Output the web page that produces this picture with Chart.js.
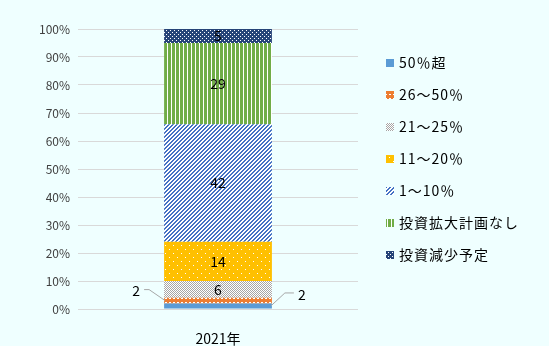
<!DOCTYPE html>
<html>
<head>
<meta charset="utf-8">
<script src="https://cdn.jsdelivr.net/npm/chart.js@4"></script>
<style>
  html, body { margin: 0; padding: 0; background: #EFFFFF; }
  #wrap { width: 549px; height: 346px; }
</style>
</head>
<body>
<div id="wrap"><canvas id="chart" width="549" height="346"></canvas></div>
<script>
// Data
const categories = ['2021年'];
const seriesNames = ['50％超', '26～50％', '21～25％', '11～20％', '1～10％', '投資拡大計画なし', '投資減少予定'];
const seriesValues = [[2], [2], [6], [14], [42], [29], [5]];
const yTicks = [0, 10, 20, 30, 40, 50, 60, 70, 80, 90, 100];

const FONT = '"Noto Sans CJK JP", "Noto Sans", sans-serif';

// small tile patterns like Excel fills
function makePattern(w, h, draw) {
    const c = document.createElement('canvas');
    c.width = w; c.height = h;
    const g = c.getContext('2d');
    draw(g);
    return document.getElementById('chart').getContext('2d').createPattern(c, 'repeat');
}
function px(g, col, x, y, w, h) { g.fillStyle = col; g.fillRect(x, y, w || 1, h || 1); }

const fills = [
    '#5B9BD5',
    makePattern(4, 4, g => { px(g, '#ED7D31', 0, 0, 4, 4); px(g, '#ffffff', 1, 2, 2, 1); }),
    makePattern(2, 2, g => { px(g, '#ffffff', 0, 0, 2, 2); px(g, '#A5A5A5', 0, 0); px(g, '#A5A5A5', 1, 1); }),
    makePattern(8, 8, g => { px(g, '#FFC000', 0, 0, 8, 8); px(g, '#ffffff', 1, 1); px(g, '#ffffff', 5, 5); }),
    makePattern(4, 4, g => {
        px(g, '#ffffff', 0, 0, 4, 4);
        for (let x = 0; x < 4; x++) for (let y = 0; y < 4; y++) if ((x + y) % 4 < 2) px(g, '#4472C4', x, y);
    }),
    makePattern(4, 1, g => { px(g, '#70AD47', 0, 0, 3, 1); px(g, '#ffffff', 3, 0); }),
    makePattern(4, 4, g => { px(g, '#264478', 0, 0, 4, 4); px(g, '#ffffff', 0, 0); px(g, '#ffffff', 2, 2); })
];

const datasets = seriesNames.map((name, i) => ({
    label: name,
    data: seriesValues[i],
    backgroundColor: fills[i],
    borderWidth: 0,
    categoryPercentage: 0.385,
    barPercentage: 1
}));

// labels inside the bar, with leader lines for the thin ones
const labelPlugin = {
    id: 'labels',
    afterDatasetsDraw(chart) {
        const ctx = chart.ctx;
        ctx.save();
        ctx.font = '14px ' + FONT;
        ctx.fillStyle = '#000';
        ctx.textAlign = 'center';
        ctx.textBaseline = 'middle';
        chart.data.datasets.forEach((ds, i) => {
            const bar = chart.getDatasetMeta(i).data[0];
            const left = bar.x - bar.width / 2, right = bar.x + bar.width / 2;
            const mid = (bar.y + bar.base) / 2;
            const v = ds.data[0];
            if (i === 0) {
                // right side leader
                ctx.strokeStyle = '#A6A6A6';
                ctx.lineWidth = 1;
                ctx.beginPath();
                ctx.moveTo(right - 1, mid);
                ctx.lineTo(right + 13, mid - 13);
                ctx.lineTo(right + 22, mid - 13);
                ctx.stroke();
                ctx.fillText(v, right + 30, mid - 11);
            } else if (i === 1) {
                ctx.strokeStyle = '#A6A6A6';
                ctx.lineWidth = 1;
                ctx.beginPath();
                ctx.moveTo(left + 1, mid);
                ctx.lineTo(left - 15, mid - 11);
                ctx.lineTo(left - 20, mid - 11);
                ctx.stroke();
                ctx.fillText(v, left - 28, mid - 10);
            } else {
                ctx.fillText(v, bar.x, mid);
            }
        });
        ctx.restore();
    }
};

// legend on the right
const legendPlugin = {
    id: 'sideLegend',
    afterDraw(chart) {
        const ctx = chart.ctx;
        ctx.save();
        ctx.font = '14px ' + FONT;
        ctx.letterSpacing = '1px';
        ctx.textBaseline = 'middle';
        ctx.textAlign = 'left';
        seriesNames.forEach((name, i) => {
            const y = 63 + i * 32;
            ctx.fillStyle = fills[i];
            ctx.fillRect(386, y - 4, 8, 8);
            ctx.fillStyle = '#000';
            ctx.fillText(name, 399, y);
        });
        ctx.restore();
    }
};

new Chart(document.getElementById('chart'), {
    type: 'bar',
    data: { labels: categories, datasets: datasets },
    options: {
        responsive: false,
        animation: false,
        layout: { padding: { top: 29, right: 191, bottom: 0, left: 0 } },
        plugins: { legend: { display: false }, tooltip: { enabled: false } },
        scales: {
            x: {
                stacked: true,
                grid: { display: false },
                border: { display: false },
                ticks: { color: '#000', font: { family: FONT, size: 14 }, padding: 13 },
                afterFit(scale) { scale.height = 37; }
            },
            y: {
                stacked: true,
                min: 0,
                max: 100,
                afterBuildTicks(scale) { scale.ticks = yTicks.map(v => ({ value: v })); },
                grid: { color: '#D9D9D9', drawTicks: false },
                border: { display: false },
                ticks: {
                    color: '#404040',
                    font: { family: FONT, size: 12 },
                    padding: 8,
                    callback: v => v + '%'
                },
                afterFit(scale) { scale.width = 78; }
            }
        }
    },
    plugins: [labelPlugin, legendPlugin]
});
</script>
</body>
</html>
